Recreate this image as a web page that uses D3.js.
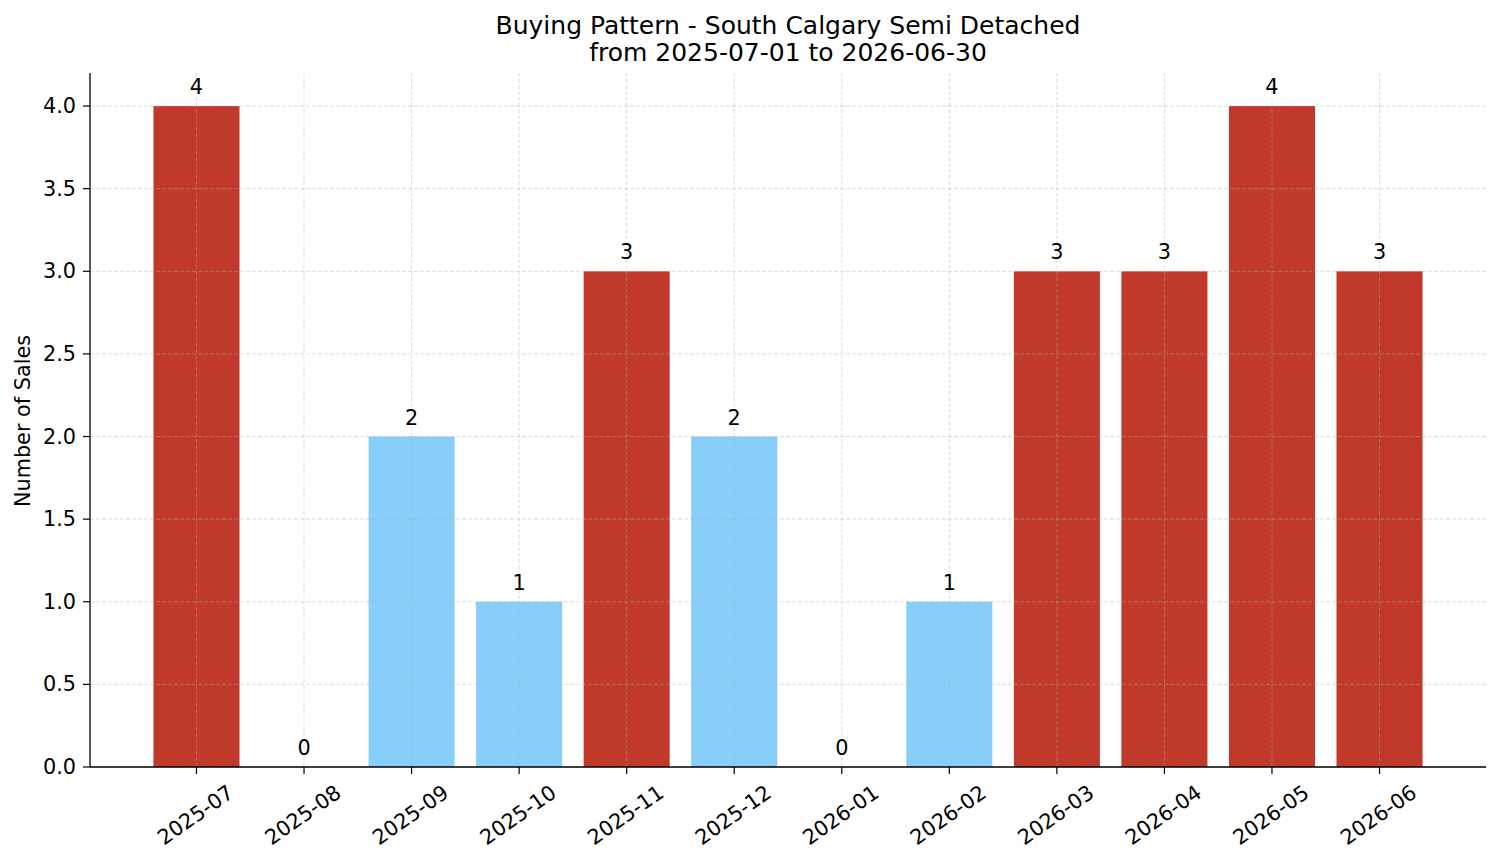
<!DOCTYPE html>
<html>
<head>
<meta charset="utf-8">
<script src="https://cdn.jsdelivr.net/npm/d3@7"></script>
<style>
body { margin: 0; background: #fff; }
text { font-family: "DejaVu Sans", sans-serif; fill: #000; }
</style>
</head>
<body>
<svg></svg>
<script>
//data
const months = ["2025-07","2025-08","2025-09","2025-10","2025-11","2025-12","2026-01","2026-02","2026-03","2026-04","2026-05","2026-06"];
const sales = [4, 0, 2, 1, 3, 2, 0, 1, 3, 3, 4, 3];
const yTicks = [0, 0.5, 1, 1.5, 2, 2.5, 3, 3.5, 4];
const titleLines = ["Buying Pattern - South Calgary Semi Detached", "from 2025-07-01 to 2026-06-30"];

//setting
const Width = 1501, Height = 863;
const mLeft = 90, mRight = 1486, mTop = 73, mBottom = 767;
const fs = "20.8px";
const svg = d3.select("svg").attr("width", Width).attr("height", Height);

const x = d3.scaleLinear().domain([-0.99, months.length - 1 + 0.99]).range([mLeft, mRight]);
const y = d3.scaleLinear().domain([0, 4.2]).range([mBottom, mTop]);
const barW = x(0.4) - x(-0.4);

// bars
svg.append("g")
.selectAll("rect")
.data(sales)
.join("rect")
.attr("x", (d, i) => x(i) - barW / 2)
.attr("y", d => y(d))
.attr("width", barW)
.attr("height", d => y(0) - y(d))
.attr("fill", d => d >= 3 ? "#c0392b" : "#87cefa");

// grid (drawn over bars)
const grid = svg.append("g").attr("stroke", "#b0b0b0").attr("stroke-opacity", 0.55)
.attr("stroke-width", 0.8).attr("stroke-dasharray", "4,2");
grid.selectAll(".gy").data(yTicks).join("line")
.attr("x1", mLeft).attr("x2", mRight)
.attr("y1", d => y(d)).attr("y2", d => y(d));
grid.selectAll(".gx").data(months).join("line")
.attr("x1", (d, i) => x(i)).attr("x2", (d, i) => x(i))
.attr("y1", mTop).attr("y2", mBottom);

// value labels
svg.append("g")
.selectAll("text")
.data(sales)
.join("text")
.attr("x", (d, i) => x(i))
.attr("y", d => y(d) - 12)
.attr("text-anchor", "middle")
.style("font-size", fs)
.text(d => d);

// y axis
const yAxis = svg.append("g");
yAxis.selectAll("line").data(yTicks).join("line")
.attr("x1", mLeft - 7).attr("x2", mLeft)
.attr("y1", d => y(d)).attr("y2", d => y(d))
.attr("stroke", "#000").attr("stroke-width", 1.2);
yAxis.selectAll("text").data(yTicks).join("text")
.attr("x", mLeft - 14).attr("y", d => y(d))
.attr("text-anchor", "end").attr("dominant-baseline", "central")
.style("font-size", fs)
.text(d => d.toFixed(1));

// x axis
const xAxis = svg.append("g");
xAxis.selectAll("line").data(months).join("line")
.attr("x1", (d, i) => x(i)).attr("x2", (d, i) => x(i))
.attr("y1", mBottom).attr("y2", mBottom + 7)
.attr("stroke", "#000").attr("stroke-width", 1.2);
xAxis.selectAll("text").data(months).join("text")
.attr("transform", (d, i) => `translate(${x(i) - 1},${815}) rotate(-35)`)
.attr("text-anchor", "middle").attr("dominant-baseline", "central")
.style("font-size", fs)
.text(d => d);

// spines
svg.append("line").attr("x1", mLeft).attr("x2", mLeft).attr("y1", mTop).attr("y2", mBottom)
.attr("stroke", "#000").attr("stroke-width", 1.3);
svg.append("line").attr("x1", mLeft).attr("x2", mRight).attr("y1", mBottom).attr("y2", mBottom)
.attr("stroke", "#000").attr("stroke-width", 1.3);

// y label
svg.append("text")
.attr("transform", `translate(23,${(mTop + mBottom) / 2 + 1}) rotate(-90)`)
.attr("text-anchor", "middle").attr("dominant-baseline", "central")
.style("font-size", fs)
.text("Number of Sales");

// title
svg.append("g")
.selectAll("text")
.data(titleLines)
.join("text")
.attr("x", (mLeft + mRight) / 2)
.attr("y", (d, i) => 34 + i * 27)
.attr("text-anchor", "middle")
.style("font-size", "25px")
.text(d => d);
</script>
</body>
</html>
